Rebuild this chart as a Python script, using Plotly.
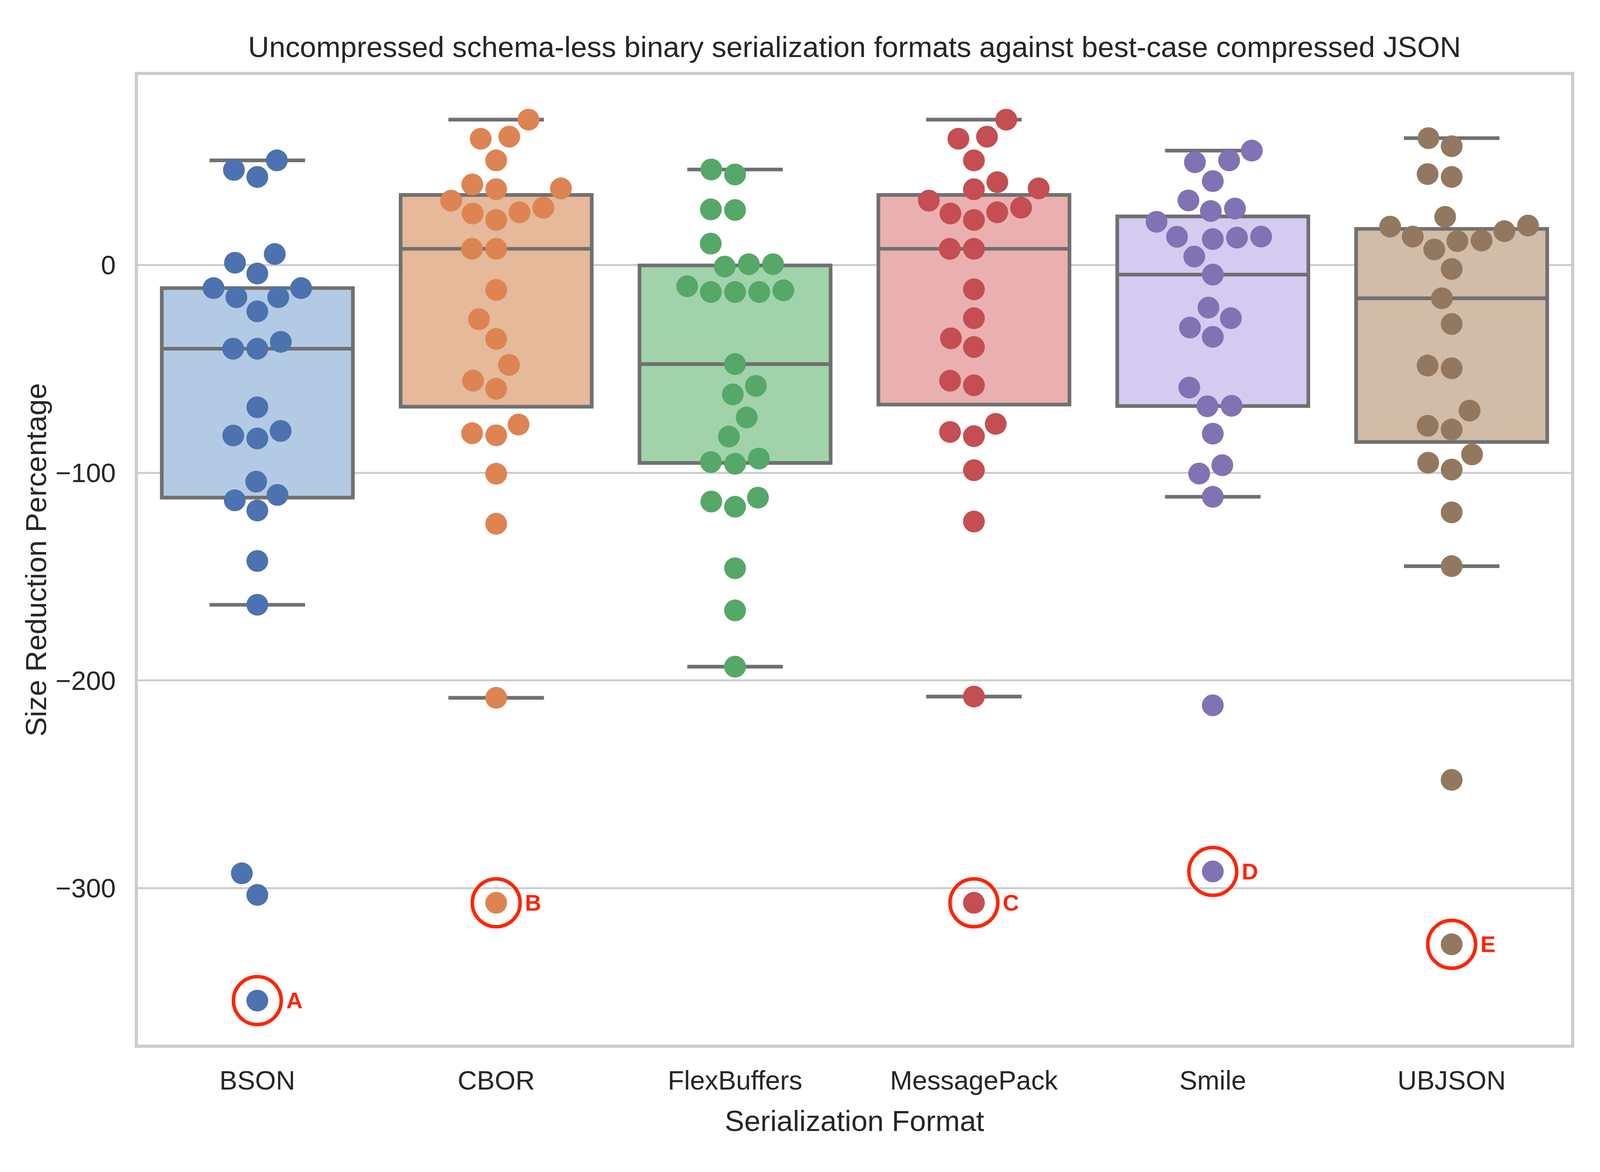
import numpy as np
import plotly.graph_objects as go

# values (size reduction %, one list per format)
formats = ["BSON", "CBOR", "FlexBuffers", "MessagePack", "Smile", "UBJSON"]

bson = [50.4, 45.8, 42.4, 5.3, 1.1, -4.1, -11.1, -11.1, -15.5, -15.5, -22.3, -37.0, -40.3, -40.3,
        -68.5, -79.9, -82.1, -83.5, -104.3, -110.7, -113.3, -118.2, -142.5, -163.6, -292.9, -303.3, -354.2]
cbor = [70.0, 61.8, 60.8, 50.4, 38.8, 36.9, 36.5, 31.0, 27.6, 25.4, 24.8, 21.7, 7.8, 7.8,
        -12.0, -26.1, -35.6, -48.1, -55.7, -59.6, -76.8, -81.0, -82.0, -100.5, -124.6, -208.4, -307.1]
flexbuffers = [46.0, 43.6, 26.8, 26.5, 10.3, 0.4, 0.4, -0.75, -10.2, -12.2, -13.0, -13.0, -13.0, -47.7,
               -58.2, -62.3, -73.4, -82.6, -93.2, -94.9, -95.7, -112.0, -113.9, -116.4, -146.0, -166.3, -193.4]
messagepack = [70.0, 61.8, 60.8, 50.4, 39.9, 36.9, 36.5, 31.0, 27.6, 25.4, 24.8, 21.7, 7.8, 7.8,
               -11.7, -25.6, -35.3, -39.5, -55.7, -57.9, -76.5, -80.4, -82.4, -98.8, -123.5, -207.8, -307.1]
smile = [55.1, 50.4, 49.5, 40.4, 31.1, 27.2, 26.0, 20.8, 13.7, 13.6, 13.2, 12.5, 4.1, -4.6,
         -20.5, -25.6, -30.1, -34.6, -59.0, -67.8, -68.0, -81.2, -96.4, -100.4, -111.6, -212.0, -292.0]
ubjson = [61.1, 57.2, 43.8, 42.4, 23.2, 19.0, 18.5, 16.3, 13.7, 11.8, 11.5, 7.5, -1.9, -16.0,
          -28.4, -48.4, -49.7, -70.1, -77.4, -79.2, -91.2, -95.2, -98.5, -119.1, -145.0, -247.9, -327.1]

series = [bson, cbor, flexbuffers, messagepack, smile, ubjson]

# circled worst cases
marked_formats = ["BSON", "CBOR", "MessagePack", "Smile", "UBJSON"]
marked_labels = ["A", "B", "C", "D", "E"]

ytick_values = [-300, -200, -100, 0]

# seaborn-ish colours
point_colors = ["#4c72b0", "#dd8452", "#55a868", "#c44e52", "#8172b3", "#937860"]
box_colors = ["#b3cae4", "#e5b99a", "#a1d3aa", "#eab0b0", "#d5caf0", "#d0bca7"]
edge_gray = "#707070"
mark_red = "#ff2400"
text_col = "#262626"
FONT = "Liberation Sans, Arial, sans-serif"

# the window only gives 4096 px of width, so the 5000x3000 layout is squeezed sideways
S = 4096 / 5000     # horizontal factor
F = 0.9             # size factor for text / dots
W, H = 4096, 3000
ML, MR, MT, MB = round(431 * S), round(90 * S), 192, 326
yr = [-375.4, 91.5]
xr = [-0.5, len(formats) - 0.5]
px_per_y = (H - MT - MB) / (yr[1] - yr[0])
px_per_x = (W - ML - MR) / (xr[1] - xr[0])

DOT = 62 * F        # drawn marker diameter (px)
DOT_HIT = 72        # spacing diameter of the swarm, in unsqueezed px
LW = 10.4 * F


def swarm_offsets(values):
    # simple beeswarm like seaborn's: place from bottom up, nearest free slot to the centre
    r2 = DOT_HIT ** 2
    ys = np.asarray(values) * px_per_y
    order = np.argsort(ys, kind="mergesort")
    placed = []
    xs = np.zeros(len(ys))
    for k in order:
        y = ys[k]
        near = []
        for xj, yj in reversed(placed):
            if y - yj < DOT_HIT:
                near.append((xj, yj))
            else:
                break
        cands = [0.0]
        left_first = True
        for xj, yj in near:
            dx = np.sqrt(max(r2 - (y - yj) ** 2, 0)) * 1.05
            cands += [xj - dx, xj + dx] if left_first else [xj + dx, xj - dx]
            left_first = not left_first
        cands = sorted(cands, key=abs)
        pick = cands[0]
        for c in cands:
            if all((xj - c) ** 2 + (yj - y) ** 2 >= r2 - 1e-6 for xj, yj in near):
                pick = c
                break
        placed.append((pick, y))
        xs[k] = pick
    return xs / (px_per_x / S)


fig = go.Figure()

# boxes (no whisker stems in the reference, only caps)
caps = []
for i, vals in enumerate(series):
    v = np.array(vals)
    q1, med, q3 = np.percentile(v, [25, 50, 75])
    iqr = q3 - q1
    lo = v[v >= q1 - 1.5 * iqr].min()
    hi = v[v <= q3 + 1.5 * iqr].max()
    caps.append((lo, hi))
    fig.add_trace(go.Box(
        x=[i], q1=[q1], median=[med], q3=[q3], lowerfence=[q1], upperfence=[q3],
        width=0.8, whiskerwidth=0, fillcolor=box_colors[i],
        line=dict(color=edge_gray, width=LW), boxpoints=False,
        hoverinfo="skip", showlegend=False,
    ))

for i, (lo, hi) in enumerate(caps):
    fig.add_trace(go.Scatter(
        x=[i - 0.2, i + 0.2, None, i - 0.2, i + 0.2], y=[lo, lo, None, hi, hi],
        mode="lines", line=dict(color=edge_gray, width=LW),
        hoverinfo="skip", showlegend=False,
    ))

# swarm points
swarm_x = []
for i, vals in enumerate(series):
    xs = i + swarm_offsets(vals)
    swarm_x.append(xs)
    fig.add_trace(go.Scatter(
        x=xs, y=vals, mode="markers",
        marker=dict(color=point_colors[i], size=DOT, line=dict(width=0)),
        hoverinfo="skip", showlegend=False,
    ))

# red circles + letters on the worst case of each marked format
R = 68 * F
for name, lab in zip(marked_formats, marked_labels):
    i = formats.index(name)
    k = int(np.argmin(series[i]))
    px, py = swarm_x[i][k], series[i][k]
    fig.add_shape(type="circle", xref="x", yref="y", xsizemode="pixel", ysizemode="pixel",
                  xanchor=px, yanchor=py, x0=-R, x1=R, y0=-R, y1=R,
                  line=dict(color=mark_red, width=10 * F), layer="above")
    fig.add_annotation(x=px, y=py, text="<b>%s</b>" % lab, showarrow=False,
                       xanchor="left", yanchor="middle", xshift=round(80 * F),
                       font=dict(family=FONT, size=64 * F, color=mark_red))

fig.update_layout(
    width=W, height=H,
    margin=dict(l=ML, r=MR, t=MT, b=MB, pad=0),
    paper_bgcolor="white", plot_bgcolor="white",
    boxmode="overlay",
    font=dict(family=FONT, color=text_col),
    title=dict(text="Uncompressed schema-less binary serialization formats against best-case compressed JSON",
               x=0.5, xref="paper", xanchor="center", y=1 - 120 / H, yanchor="middle",
               font=dict(size=83 * F, color=text_col)),
)
fig.update_xaxes(
    range=xr, tickvals=list(range(len(formats))), ticktext=formats,
    showgrid=False, zeroline=False, showline=True, mirror=True,
    linecolor="#cccccc", linewidth=9 * F, ticks="", ticklabelstandoff=25,
    tickfont=dict(size=76 * F, color=text_col),
    title=dict(text="Serialization Format", font=dict(size=83 * F, color=text_col), standoff=44),
)
fig.update_yaxes(
    range=yr, tickvals=ytick_values,
    showgrid=True, gridcolor="#cccccc", gridwidth=5.5 * F, zeroline=False,
    showline=True, mirror=True, linecolor="#cccccc", linewidth=9 * F, ticks="",
    ticklabelstandoff=35,
    tickfont=dict(size=76 * F, color=text_col),
    title=dict(text="Size Reduction Percentage", font=dict(size=83 * F, color=text_col), standoff=2),
)

# no page margin and no modebar, so the figure sits flush in the window
fig.write_html("out.html", config={"displayModeBar": False},
               post_script="document.body.style.margin='0';")
